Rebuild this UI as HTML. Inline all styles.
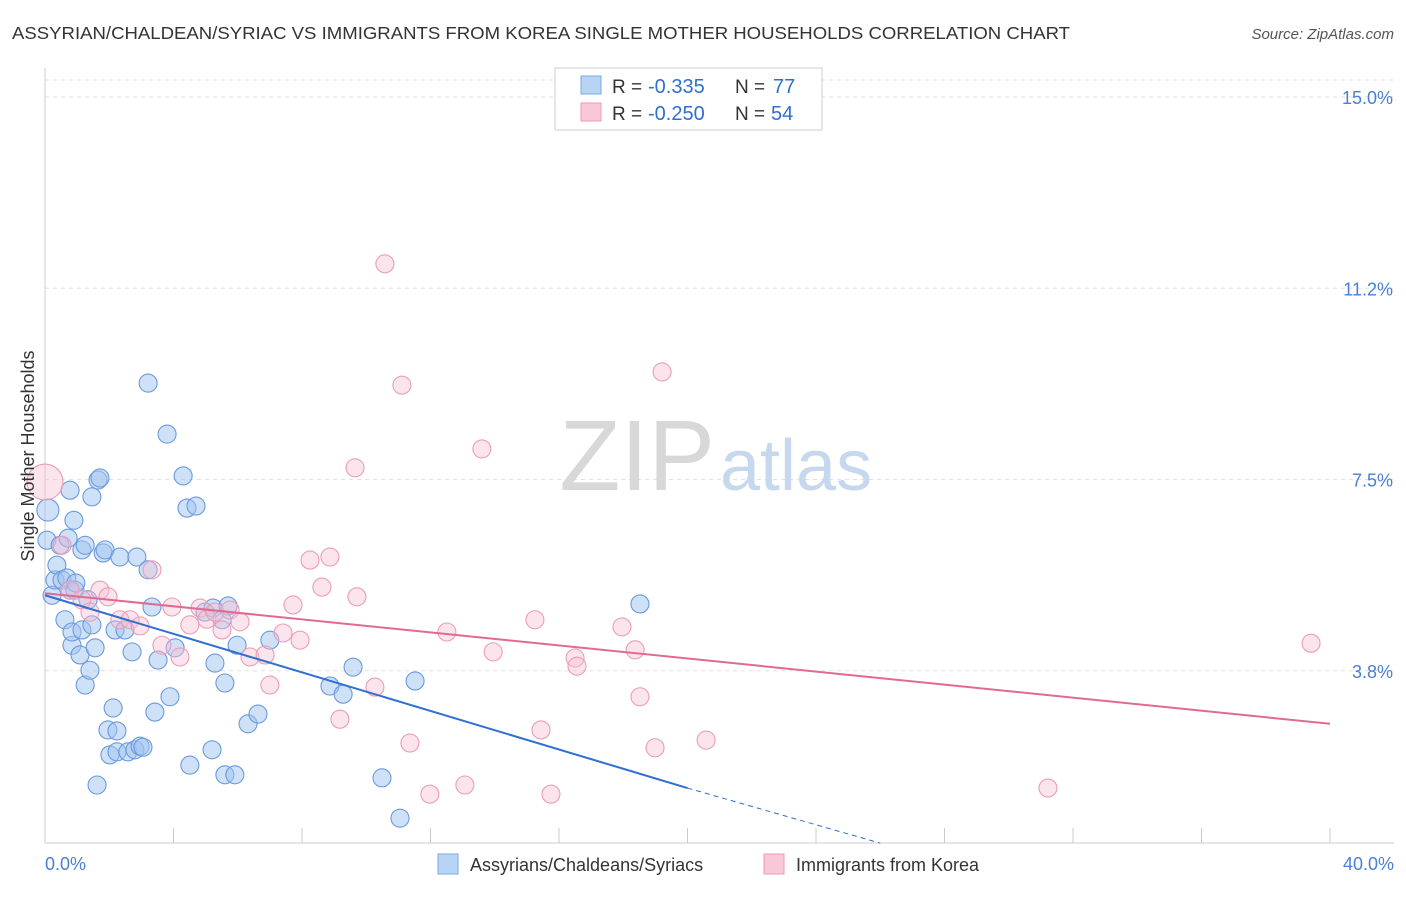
<!DOCTYPE html>
<html><head><meta charset="utf-8"><style>
body{margin:0;background:#fff;font-family:"Liberation Sans",sans-serif;}
svg text{font-family:"Liberation Sans",sans-serif;}
</style></head><body>
<svg width="1406" height="892">
<text x="12" y="39" font-size="17.5" fill="#333" textLength="1058" lengthAdjust="spacingAndGlyphs">ASSYRIAN/CHALDEAN/SYRIAC VS IMMIGRANTS FROM KOREA SINGLE MOTHER HOUSEHOLDS CORRELATION CHART</text>
<text x="1394" y="39" font-size="15" fill="#555" font-style="italic" text-anchor="end">Source: ZipAtlas.com</text>
<g id="grid"></g>
<text x="715" y="490" font-size="100" fill="#d8d8d8" text-anchor="end" font-family="Liberation Serif">ZIP</text>
<text x="720" y="490" font-size="72" fill="#c5d8ee">atlas</text>
<line x1="45" y1="68" x2="45" y2="843" stroke="#ccc"/>
<line x1="45" y1="843" x2="1394" y2="843" stroke="#ccc"/>
<g id="xticks"></g>
<g id="pts"></g>
<g id="trends"></g>
<text transform="translate(34,456) rotate(-90)" font-size="18" fill="#333" text-anchor="middle">Single Mother Households</text>
<text x="45" y="870" font-size="18" fill="#4a7fd4">0.0%</text>
<text x="1394" y="870" font-size="18" fill="#4a7fd4" text-anchor="end">40.0%</text>
<g>
<rect x="555" y="68" width="267" height="62" fill="#fff" stroke="#ccc"/>
<rect x="581" y="76" width="20" height="18" fill="#b8d4f4" stroke="#7aa8e0"/>
<rect x="581" y="103" width="20" height="18" fill="#f9c8d8" stroke="#ec9ab4"/>
<text x="612" y="93" font-size="19" fill="#333">R =</text>
<text x="648" y="93" font-size="20" fill="#2f6fd0">-0.335</text>
<text x="735" y="93" font-size="19" fill="#333">N =</text>
<text x="773" y="93" font-size="20" fill="#2f6fd0">77</text>
<text x="612" y="120" font-size="19" fill="#333">R =</text>
<text x="648" y="120" font-size="20" fill="#2f6fd0">-0.250</text>
<text x="735" y="120" font-size="19" fill="#333">N =</text>
<text x="771" y="120" font-size="20" fill="#2f6fd0">54</text>
</g>
<g>
<rect x="438" y="854" width="20" height="20" fill="#b8d4f4" stroke="#7aa8e0"/>
<text x="470" y="871" font-size="18" fill="#333">Assyrians/Chaldeans/Syriacs</text>
<rect x="764" y="854" width="20" height="20" fill="#f9c8d8" stroke="#ec9ab4"/>
<text x="796" y="871" font-size="18" fill="#333">Immigrants from Korea</text>
</g>
</svg>
<script>
const yTicks=[3.75,7.5,11.25,15];
const yTickLabels=["3.8%","7.5%","11.2%","15.0%"];
const xTicks=[0,4,8,12,16,20,24,28,32,36,40];
const blueX=[0.09,0.06,0.22,0.31,0.37,0.47,0.53,0.62,0.68,0.72,0.78,0.78,0.84,0.84,0.9,0.93,0.96,1.09,1.15,1.15,1.25,1.25,1.34,1.4,1.46,1.46,1.56,1.62,1.65,1.71,1.81,1.87,1.96,2.02,2.12,2.18,2.24,2.24,2.33,2.49,2.58,2.71,2.8,2.86,2.96,3.05,3.21,3.21,3.33,3.42,3.52,3.8,3.89,4.05,4.3,4.42,4.51,4.7,4.98,5.2,5.23,5.29,5.6,5.6,5.7,5.91,5.98,6.32,6.63,7.0,8.87,9.28,9.59,10.49,11.05,11.52,18.52,5.51];
const blueY=[6.9,6.31,5.23,5.53,5.82,6.21,5.53,4.75,5.57,6.35,7.29,5.33,4.25,4.51,6.7,5.33,5.47,4.06,6.12,4.55,6.21,3.47,5.14,3.76,4.65,7.16,4.2,1.51,7.49,7.53,6.06,6.12,2.59,2.1,3.02,4.55,2.57,2.16,5.98,4.55,2.16,4.12,2.2,5.98,2.27,2.25,5.73,9.39,5.0,2.94,3.96,8.39,3.24,4.2,7.57,6.94,1.9,6.98,4.9,2.2,4.98,3.9,1.71,3.51,5.02,1.71,4.25,2.71,2.9,4.35,3.45,3.29,3.82,1.65,0.86,3.55,5.06,4.75];
const pinkX=[0,0.53,0.78,1.15,1.4,1.71,1.96,2.33,2.65,2.96,3.33,3.64,3.95,4.2,4.51,4.83,5.04,5.29,5.51,5.76,6.07,6.38,6.85,7.0,7.41,7.72,7.94,8.25,8.62,8.87,9.18,9.65,9.71,10.27,10.58,11.11,11.36,11.98,12.51,13.07,13.6,13.95,15.25,15.44,15.75,16.5,16.56,17.96,18.37,18.52,18.99,19.21,20.58,31.22,39.41];
const pinkY=[7.45,6.21,5.33,5.14,4.9,5.33,5.2,4.75,4.75,4.63,5.73,4.25,5.0,4.02,4.65,4.98,4.76,4.9,4.55,4.94,4.71,4.02,4.06,3.47,4.49,5.04,4.35,5.92,5.39,5.98,2.8,7.73,5.2,3.43,11.73,9.35,2.333,1.33,4.51,1.51,8.1,4.12,4.75,2.59,1.33,4.0,3.84,4.61,4.16,3.24,2.24,9.61,2.39,1.45,4.29];
const blueTrend=[[0,5.23],[20,1.45]];
const blueTrendExt=[[20,1.45],[26,0.37]];
const pinkTrend=[[0,5.27],[40,2.71]];
const X=v=>45+v*32.125, Y=v=>862-v*51;
const NS="http://www.w3.org/2000/svg";
function mk(t,a,p){const e=document.createElementNS(NS,t);for(const k in a)e.setAttribute(k,a[k]);p.appendChild(e);return e;}
const grid=document.getElementById('grid');
mk('line',{x1:45,x2:1394,y1:80,y2:80,stroke:'#e0e0e0','stroke-dasharray':'4,4'},grid);
yTicks.forEach((t,i)=>{
 const l=mk('line',{x1:45,x2:1394,y1:Y(t),y2:Y(t),stroke:'#e0e0e0','stroke-dasharray':'4,4'},grid);
 
 
 const tx=mk('text',{x:1393,y:Y(t)+7,'font-size':18,fill:'#4a7fd4','text-anchor':'end'},grid);
 tx.textContent=yTickLabels[i];
 
 
});
const xt=document.getElementById('xticks');
xTicks.forEach(t=>{const l=mk('line',{x1:X(t),x2:X(t),y1:828,y2:843,stroke:'#ccc'},xt);
 
 });
const pts=document.getElementById('pts');
blueX.forEach((v,i)=>{const c=mk('circle',{cx:X(v),cy:Y(blueY[i]),r:i==0?11:9,fill:'rgba(160,196,240,0.5)',stroke:'#6a9ade','stroke-width':1.1},pts);
 
 });
pinkX.forEach((v,i)=>{const c=mk('circle',{cx:X(v),cy:Y(pinkY[i]),r:i==0?18:9,fill:'rgba(248,190,210,0.42)',stroke:'#eb9cb8','stroke-width':1.1},pts);
 
 });
const tr=document.getElementById('trends');
let a=mk('line',{x1:X(blueTrend[0][0]),y1:Y(blueTrend[0][1]),x2:X(blueTrend[1][0]),y2:Y(blueTrend[1][1]),stroke:'#2f6fd0','stroke-width':2},tr);


a=mk('line',{x1:X(blueTrendExt[0][0]),y1:Y(blueTrendExt[0][1]),x2:X(blueTrendExt[1][0]),y2:Y(blueTrendExt[1][1]),stroke:'#2f6fd0','stroke-width':1,'stroke-dasharray':'5,4'},tr);


a=mk('line',{x1:X(pinkTrend[0][0]),y1:Y(pinkTrend[0][1]),x2:X(pinkTrend[1][0]),y2:Y(pinkTrend[1][1]),stroke:'#e06a92','stroke-width':2},tr);


</script>
</body></html>
